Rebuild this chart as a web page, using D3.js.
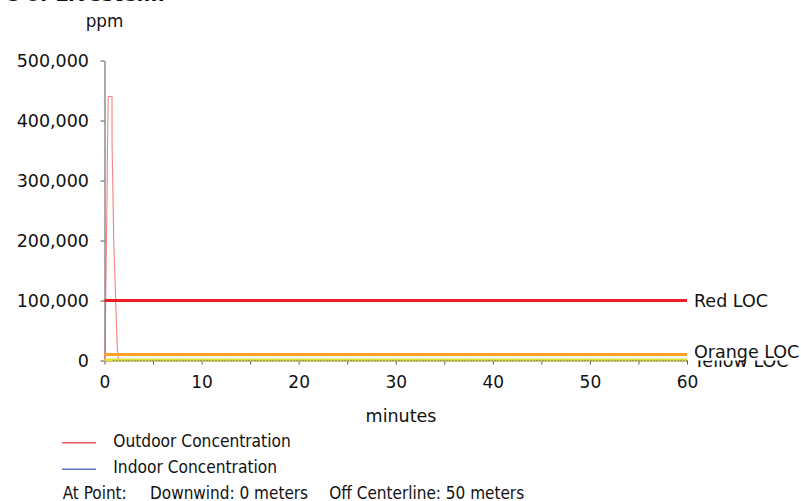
<!DOCTYPE html>
<html><head><meta charset="utf-8">
<script src="https://cdn.jsdelivr.net/npm/d3@7"></script>
<style>
html,body{margin:0;padding:0;background:#fff;overflow:hidden}
svg{display:block;font-family:"DejaVu Sans",Verdana,sans-serif}
.cond{font-family:"DejaVu Sans Condensed","DejaVu Sans",sans-serif;font-stretch:condensed}
</style></head>
<body><svg id="c" width="801" height="501"></svg>
<script>
// ---- data ----
const yTicks = [0, 100000, 200000, 300000, 400000, 500000];
const xTicks = [0, 5, 10, 15, 20, 25, 30, 35, 40, 45, 50, 55, 60];
const xLabelTicks = [0, 10, 20, 30, 40, 50, 60];
const outdoorTime = [0, 0.08, 0.12, 0.26, 0.30, 0.36, 0.39, 0.77, 0.78, 0.95, 1.15, 1.30, 1.45, 2, 5, 10, 20, 30, 40, 50, 60];
const outdoorPpm  = [0, 15000, 100000, 270000, 345000, 410000, 440000, 440000, 360000, 200000, 100000, 25000, 1500, 600, 300, 200, 100, 80, 60, 50, 40];
const indoorTime = [0, 1, 2, 5, 10, 20, 30, 40, 50, 60];
const indoorPpm  = [0, 200, 500, 700, 600, 400, 300, 200, 150, 100];
const locNames = ["Red LOC", "Orange LOC", "Yellow LOC"];
const locPpm   = [100000, 10000, 1000];
const locColors = ["#ee1c25", "#ffa024", "#e2e23c"];
const legendNames = ["Outdoor Concentration", "Indoor Concentration"];
const legendColors = ["#f05a5a", "#5f72c4"];
const pointInfo = ["At Point:", "Downwind: 0 meters", "Off Centerline: 50 meters"];
const titleFragment = "e of Livestem.";

// ---- drawing ----
const svg = d3.select("#c");
const x = d3.scaleLinear().domain([0, 60]).range([104.5, 687]);
const y = d3.scaleLinear().domain([0, 500000]).range([360.5, 60.5]);
const axisColor = "#555";

// cropped title fragment (only the bottom of the glyphs is inside the picture)
svg.append("text").attr("x", 165).attr("y", 0.5).attr("text-anchor", "end")
  .attr("font-size", 20).attr("font-weight", "bold").attr("fill", "#111").text(titleFragment);

// y axis title
svg.append("text").attr("x", 104.5).attr("y", 26.5).attr("text-anchor", "middle")
  .attr("font-size", 16.8).attr("fill", "#111").text("ppm");

// y axis
const gy = svg.append("g").attr("transform", "translate(104.5,0)")
  .call(d3.axisLeft(y).tickValues(yTicks).tickFormat(d3.format(",")).tickSize(4).tickSizeOuter(0).tickPadding(11.5));
gy.select(".domain").attr("stroke", axisColor);
gy.selectAll(".tick line").attr("stroke", axisColor);
gy.selectAll(".tick text").attr("font-size", 17.5).attr("fill", "#111").attr("font-family", "DejaVu Sans");

// x axis
const gx = svg.append("g").attr("transform", "translate(0,360.5)")
  .call(d3.axisBottom(x).tickValues(xTicks).tickFormat(d => xLabelTicks.includes(d) ? d : "").tickSize(4).tickSizeOuter(0).tickPadding(11.5));
gx.select(".domain").attr("stroke", axisColor);
gx.selectAll(".tick line").attr("stroke", axisColor);
gx.selectAll(".tick text").attr("font-size", 17).attr("fill", "#111").attr("font-family", "DejaVu Sans");

svg.append("text").attr("x", 401).attr("y", 421.5).attr("text-anchor", "middle")
  .attr("font-size", 17.5).attr("fill", "#111").text("minutes");

// concentration curves
const line = d3.line().x(d => x(d[0])).y(d => y(d[1]));
const outdoor = outdoorTime.map((t, i) => [t, outdoorPpm[i]]);
const indoor = indoorTime.map((t, i) => [t, indoorPpm[i]]);
svg.append("path").datum(indoor).attr("d", line).attr("fill", "none")
  .attr("stroke", legendColors[1]).attr("stroke-width", 1);
svg.append("path").datum(outdoor).attr("d", line).attr("fill", "none")
  .attr("stroke", legendColors[0]).attr("stroke-opacity", 0.75).attr("stroke-width", 1.1);

// LOC lines
locPpm.forEach((v, i) => {
  svg.append("line").attr("x1", x(0)).attr("x2", x(60)).attr("y1", y(v)).attr("y2", y(v))
    .attr("stroke", locColors[i]).attr("stroke-width", 3);
});
// dotted overlay on the yellow level line
svg.append("line").attr("x1", x(0.9)).attr("x2", x(60)).attr("y1", y(locPpm[2]) + 0.5).attr("y2", y(locPpm[2]) + 0.5)
  .attr("stroke", "#777").attr("stroke-width", 1).attr("stroke-dasharray", "1.5,1.5");

// LOC labels: yellow first, then orange with white box, then red
svg.append("text").attr("x", 694).attr("y", 367).attr("font-size", 17.5).attr("fill", "#111").text(locNames[2]);
svg.append("rect").attr("x", 691).attr("y", 342).attr("width", 110).attr("height", 18.5).attr("fill", "#fff");
svg.append("text").attr("x", 694).attr("y", 357.5).attr("font-size", 17.5).attr("fill", "#111").text(locNames[1]);
svg.append("text").attr("x", 694).attr("y", y(locPpm[0])).attr("dy", "0.35em").attr("font-size", 17.5).attr("fill", "#111").text(locNames[0]);

// legend
const legendY = [442.7, 469.3];
const legendTextY = [446.5, 473.3];
legendNames.forEach((n, i) => {
  svg.append("line").attr("x1", 62).attr("x2", 96).attr("y1", legendY[i]).attr("y2", legendY[i])
    .attr("stroke", legendColors[i]).attr("stroke-width", 1.5);
  svg.append("text").attr("class", "cond").attr("x", 113.3).attr("y", legendTextY[i]).attr("font-size", 17.2).attr("fill", "#111").text(n);
});
const infoX = [62.7, 150, 329.3];
pointInfo.forEach((t, i) => {
  svg.append("text").attr("class", "cond").attr("x", infoX[i]).attr("y", 498.5).attr("font-size", 17).attr("fill", "#111").text(t);
});
</script></body></html>
